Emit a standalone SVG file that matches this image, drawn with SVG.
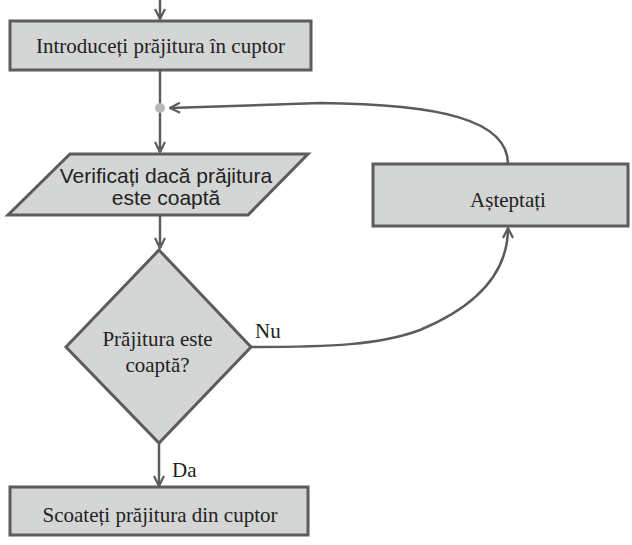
<svg xmlns="http://www.w3.org/2000/svg" width="632" height="545" viewBox="0 0 632 545">
  <style>
    .shape { fill: #d4d5d5; stroke: #5c5c5c; stroke-width: 3; }
    .edge { fill: none; stroke: #5c5c5c; stroke-width: 2.5; }
    .serif { font-family: "Liberation Serif", "Times New Roman", serif; font-size: 21px; fill: #222; }
    .sans { font-family: "Liberation Sans", Arial, sans-serif; font-size: 21px; fill: #222; }
  </style>
  <defs>
    <marker id="arrow" viewBox="0 0 12 12" refX="11" refY="6" markerWidth="12" markerHeight="12" markerUnits="userSpaceOnUse" orient="auto">
      <path d="M1,1 L11,6 L1,11" fill="none" stroke="#5c5c5c" stroke-width="2.2"/>
    </marker>
  </defs>

  <g id="connectors">
    <!-- incoming from above -->
    <path class="edge" d="M160,0 L160,19" marker-end="url(#arrow)"/>
    <!-- start box down to check step -->
    <path class="edge" d="M160,71 L160,152" marker-end="url(#arrow)"/>
    <!-- loop back from wait step to the merge point -->
    <path class="edge" d="M508,164 C508,120 440,104 320,103 L170,108" marker-end="url(#arrow)"/>
    <!-- check step to decision -->
    <path class="edge" d="M160,215 L160,248" marker-end="url(#arrow)"/>
    <!-- decision "Nu" branch to wait step -->
    <path class="edge" d="M251,347 C330,347 380,345 420,330 C480,305 508,270 508,228" marker-end="url(#arrow)"/>
    <!-- decision "Da" branch to final step -->
    <path class="edge" d="M159,443 L159,486" marker-end="url(#arrow)"/>
    <!-- merge point -->
    <circle cx="160" cy="108" r="5" fill="#b9b9b9"/>
  </g>

  <g id="insert">
    <rect class="shape" x="10" y="21" width="301" height="49"/>
    <text class="serif" x="160.5" y="53" text-anchor="middle">Introduceți prăjitura în cuptor</text>
  </g>

  <g id="check">
    <polygon class="shape" points="70,154 308,154 248,215 8,215"/>
    <text class="sans" x="166" y="183" text-anchor="middle">Verificați dacă prăjitura</text>
    <text class="sans" x="166" y="205" text-anchor="middle">este coaptă</text>
  </g>

  <g id="decision">
    <polygon class="shape" points="159,250 251,347 159,443 66,347"/>
    <text class="serif" x="157.5" y="346" text-anchor="middle">Prăjitura este</text>
    <text class="serif" x="157.5" y="372" text-anchor="middle">coaptă?</text>
  </g>

  <g id="wait">
    <rect class="shape" x="373" y="164" width="255" height="62"/>
    <text class="serif" x="508" y="207" text-anchor="middle">Așteptați</text>
  </g>

  <g id="remove">
    <rect class="shape" x="10" y="487" width="298" height="48"/>
    <text class="serif" x="160" y="522" text-anchor="middle">Scoateți prăjitura din cuptor</text>
  </g>

  <g id="labels">
    <text class="serif" x="255" y="338">Nu</text>
    <text class="serif" x="172" y="477">Da</text>
  </g>
</svg>
